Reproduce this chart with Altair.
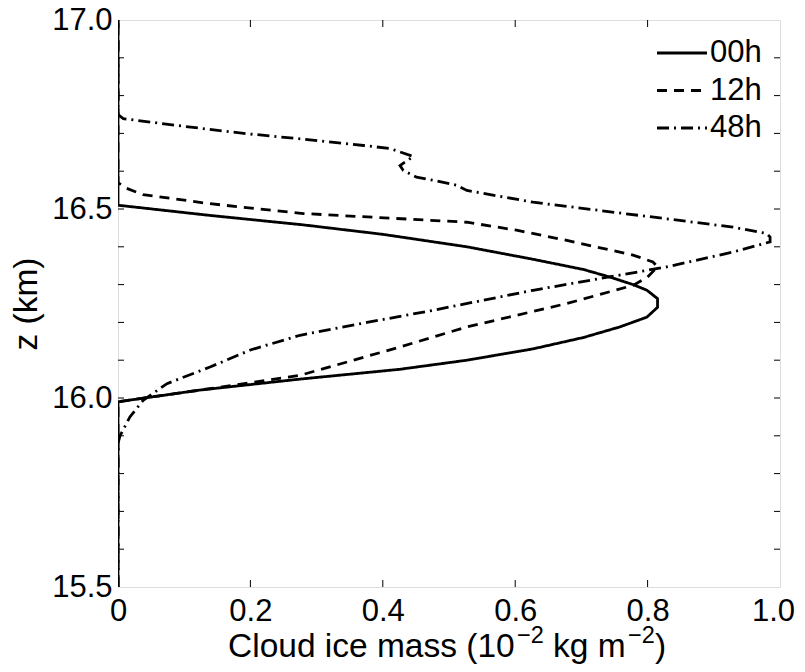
import altair as alt
import pandas as pd

# ---- data ----
series_names = ["00h", "12h", "48h"]

z_00 = [15.5, 15.985, 15.99, 16.021, 16.05, 16.076, 16.10, 16.13, 16.16, 16.188, 16.214,
        16.24, 16.263, 16.285, 16.30, 16.32, 16.34, 16.367, 16.40, 16.433, 16.458, 16.483,
        16.51, 16.52, 17.0]
x_00 = [0.0, 0.0, 0.0, 0.124, 0.275, 0.426, 0.527, 0.627, 0.703, 0.758, 0.799,
        0.815, 0.815, 0.799, 0.778, 0.743, 0.703, 0.627, 0.527, 0.40, 0.28, 0.139,
        0.0, 0.0, 0.0]

z_12 = [15.5, 15.985, 15.99, 16.021, 16.06, 16.135, 16.188, 16.25, 16.298, 16.32, 16.347,
        16.36, 16.378, 16.417, 16.444, 16.465, 16.488, 16.514, 16.538, 16.556, 16.57, 17.0]
x_12 = [0.0, 0.0, 0.0, 0.124, 0.275, 0.426, 0.527, 0.678, 0.778, 0.80, 0.815,
        0.808, 0.778, 0.678, 0.602, 0.527, 0.28, 0.139, 0.038, 0.011, 0.0, 0.0]

z_48 = [15.5, 15.88, 15.90, 15.95, 15.994, 16.038, 16.082, 16.127, 16.166, 16.20, 16.232,
        16.285, 16.316, 16.347, 16.386, 16.413, 16.426, 16.435, 16.452, 16.474, 16.496,
        16.518, 16.549, 16.563, 16.576, 16.584, 16.602, 16.615, 16.639, 16.66, 16.668,
        16.683, 16.70, 16.721, 16.739, 16.75, 17.0]
x_48 = [0.0, 0.0, 0.003, 0.018, 0.038, 0.074, 0.139, 0.20, 0.275, 0.376, 0.476,
        0.627, 0.728, 0.829, 0.929, 0.985, 0.985, 0.98, 0.929, 0.829, 0.728,
        0.627, 0.527, 0.511, 0.476, 0.451, 0.431, 0.426, 0.446, 0.411, 0.371,
        0.29, 0.19, 0.089, 0.008, 0.0, 0.0]

x_tick_values = [0.0, 0.2, 0.4, 0.6, 0.8, 1.0]
y_label_values = [15.5, 16.0, 16.5, 17.0]
x_minor_ticks = [0.2, 0.4, 0.6, 0.8]
y_minor_ticks = [15.6, 15.7, 15.8, 15.9, 16.0, 16.1, 16.2, 16.3, 16.4, 16.5, 16.6, 16.7, 16.8, 16.9]

# x-axis title pieces (normal text, superscript, normal, superscript, normal)
title_main = "Cloud ice mass (10"
title_sup1 = "\u22122"
title_mid = "kg m"
title_sup2 = "\u22122"
title_end = ")"
y_title = "z (km)"

# ---- build tables ----
rows = []
for name, zs, xs in [("00h", z_00, x_00), ("12h", z_12, x_12), ("48h", z_48, x_48)]:
    for zv, xv in zip(zs, xs):
        rows.append({"series": name, "z": zv, "x": xv})
df = pd.DataFrame(rows)
xt = pd.DataFrame({"t": x_minor_ticks})
yt = pd.DataFrame({"t": y_minor_ticks})
legend_df = pd.DataFrame({"series": series_names})

W, H = 662, 567
FONT = "Liberation Sans"
FS = 31
TFS = 33.5
SFS = 23.5
LW = 2.8

xscale = alt.Scale(domain=[0, 1], nice=False, zero=False)
yscale = alt.Scale(domain=[15.5, 17.0], nice=False, zero=False)
dash_scale = alt.Scale(domain=series_names, range=[[1, 0], [10, 7], [12, 5, 2, 5]])

lines = alt.Chart(df).mark_line(color="black", strokeWidth=LW, clip=True).encode(
    x=alt.X("x:Q", scale=xscale,
            axis=alt.Axis(values=x_tick_values, ticks=False, domain=False, grid=False,
                          labelExpr="datum.value == 0 ? '0' : format(datum.value, '.1f')",
                          labelOffset={"condition": {"test": "datum.value == 1", "value": -7},
                                       "value": 0},
                          labelFlush=False, labelPadding=9, labelFontSize=FS, title=None)),
    y=alt.Y("z:Q", scale=yscale,
            axis=alt.Axis(values=y_label_values, format=".1f", ticks=False, domain=False,
                          grid=False, labelFlush=False, labelPadding=6, labelFontSize=FS,
                          title=y_title, titleFontSize=TFS, titleFontWeight="normal",
                          titlePadding=8)),
    strokeDash=alt.StrokeDash("series:N", scale=dash_scale, legend=None),
    order=alt.Order("z:Q"),
)

ytick_left = alt.Chart(yt).mark_rule(color="black", strokeWidth=1).encode(
    y=alt.Y("t:Q", scale=yscale), x=alt.value(0), x2=alt.value(6))
ytick_right = alt.Chart(yt).mark_rule(color="black", strokeWidth=1).encode(
    y=alt.Y("t:Q", scale=yscale), x=alt.value(W - 6), x2=alt.value(W))
xtick_bottom = alt.Chart(xt).mark_rule(color="black", strokeWidth=1).encode(
    x=alt.X("t:Q", scale=xscale), y=alt.value(H - 7), y2=alt.value(H))
xtick_top = alt.Chart(xt).mark_rule(color="black", strokeWidth=1).encode(
    x=alt.X("t:Q", scale=xscale), y=alt.value(0), y2=alt.value(7))

# manual legend (top right, inside the frame)
legend_layers = []
for i, name in enumerate(series_names):
    ly = 33 + 37.5 * i
    seg = alt.Chart(legend_df).transform_filter(alt.datum.series == name).mark_rule(
        color="black", strokeWidth=LW).encode(
        x=alt.value(539), x2=alt.value(589), y=alt.value(ly),
        strokeDash=alt.StrokeDash("series:N", scale=dash_scale, legend=None))
    lab = alt.Chart(legend_df).transform_filter(alt.datum.series == name).mark_text(
        align="left", baseline="middle", fontSize=FS, font=FONT, color="black").encode(
        x=alt.value(592), y=alt.value(ly), text="series:N")
    legend_layers += [seg, lab]

# x-axis title built from pieces so the exponents are true superscripts
title_df = pd.DataFrame({"a": [0]})
TY = H + 70
pieces = [
    (title_main, TFS, 110, TY),
    (title_sup1, SFS, 399, TY - 14),
    (title_mid, TFS, 435, TY),
    (title_sup2, SFS, 510, TY - 14),
    (title_end, TFS, 537, TY),
]
title_layers = []
for txt, size, px, py in pieces:
    title_layers.append(
        alt.Chart(title_df).mark_text(align="left", baseline="alphabetic", fontSize=size,
                                      font=FONT, color="black", text=txt).encode(
            x=alt.value(px), y=alt.value(py)))

chart = alt.layer(lines, ytick_left, ytick_right, xtick_bottom, xtick_top,
                  *legend_layers, *title_layers).properties(
    width=W, height=H,
    autosize=alt.AutoSizeParams(type="none"),
    padding={"left": 110, "top": 12, "right": 17, "bottom": 77},
).configure_view(
    stroke="black", strokeWidth=1.5
).configure(
    font=FONT
).configure_axis(
    labelColor="black", titleColor="black", labelFont=FONT, titleFont=FONT
)

chart.save("out.html", embed_options={"renderer": "svg", "actions": False})
